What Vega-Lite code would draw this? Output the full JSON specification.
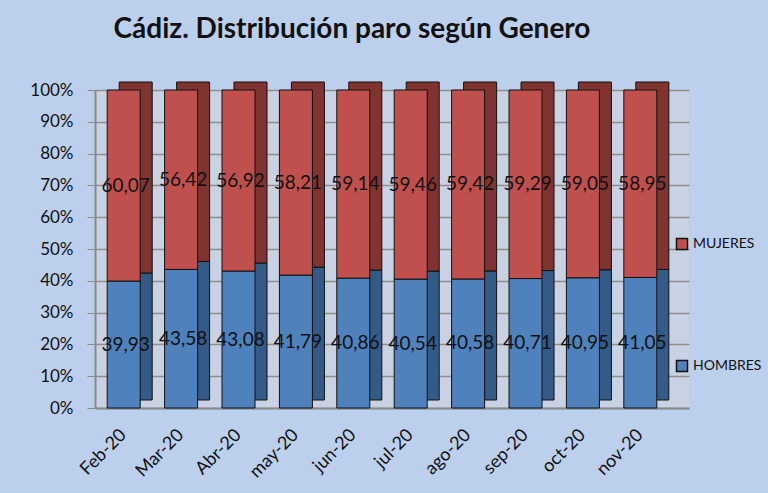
{
  "$schema": "https://vega.github.io/schema/vega-lite/v6.json",
  "width": 594,
  "height": 318,
  "autosize": {"type": "none"},
  "padding": {"left": 95, "top": 90, "right": 79, "bottom": 85},
  "background": "#bccfec",
  "config": {
    "font": "Lato",
    "view": {"fill": "#c9d2e2", "stroke": null},
    "locale": {"number": {"decimal": ",", "thousands": ".", "grouping": [3], "currency": ["", " €"]}}
  },
  "title": {
    "text": "Cádiz. Distribución paro según Genero",
    "fontSize": 28,
    "fontWeight": "bold",
    "font": "Lato",
    "color": "#111111",
    "offset": 37,
    "dx": -40
  },
  "data": {
    "values": [
      {"mes": "Feb-20", "genero": "HOMBRES", "valor": 39.93},
      {"mes": "Feb-20", "genero": "MUJERES", "valor": 60.07},
      {"mes": "Mar-20", "genero": "HOMBRES", "valor": 43.58},
      {"mes": "Mar-20", "genero": "MUJERES", "valor": 56.42},
      {"mes": "Abr-20", "genero": "HOMBRES", "valor": 43.08},
      {"mes": "Abr-20", "genero": "MUJERES", "valor": 56.92},
      {"mes": "may-20", "genero": "HOMBRES", "valor": 41.79},
      {"mes": "may-20", "genero": "MUJERES", "valor": 58.21},
      {"mes": "jun-20", "genero": "HOMBRES", "valor": 40.86},
      {"mes": "jun-20", "genero": "MUJERES", "valor": 59.14},
      {"mes": "jul-20", "genero": "HOMBRES", "valor": 40.54},
      {"mes": "jul-20", "genero": "MUJERES", "valor": 59.46},
      {"mes": "ago-20", "genero": "HOMBRES", "valor": 40.58},
      {"mes": "ago-20", "genero": "MUJERES", "valor": 59.42},
      {"mes": "sep-20", "genero": "HOMBRES", "valor": 40.71},
      {"mes": "sep-20", "genero": "MUJERES", "valor": 59.29},
      {"mes": "oct-20", "genero": "HOMBRES", "valor": 40.95},
      {"mes": "oct-20", "genero": "MUJERES", "valor": 59.05},
      {"mes": "nov-20", "genero": "HOMBRES", "valor": 41.05},
      {"mes": "nov-20", "genero": "MUJERES", "valor": 58.95}
    ]
  },
  "encoding": {
    "x": {
      "field": "mes",
      "type": "nominal",
      "sort": null,
      "scale": {"paddingInner": 0, "paddingOuter": 0.174, "align": 0},
      "axis": {
        "title": null,
        "labelAngle": -45,
        "labelAlign": "right",
        "labelBaseline": "middle",
        "labelFontSize": 18,
        "labelColor": "#111111",
        "labelPadding": 24,
        "ticks": false,
        "domainColor": "#8a8a8a",
        "domainWidth": 2,
        "grid": false
      }
    },
    "y": {
      "field": "valor",
      "type": "quantitative",
      "aggregate": "sum",
      "stack": "normalize",
      "scale": {"domain": [0, 1]},
      "axis": {
        "title": null,
        "format": ".0%",
        "values": [0, 0.1, 0.2, 0.3, 0.4, 0.5, 0.6, 0.7, 0.8, 0.9, 1],
        "labelFontSize": 17,
        "labelColor": "#111111",
        "labelPadding": 14,
        "tickSize": 8,
        "tickColor": "#8a8a8a",
        "domainColor": "#8a8a8a",
        "domainWidth": 2,
        "gridColor": "#8f8f8f",
        "gridWidth": 1.5
      }
    },
    "order": {"field": "genero", "sort": "ascending"}
  },
  "layer": [
    {
      "mark": {"type": "bar", "size": 33, "xOffset": 12, "yOffset": -8, "stroke": "#111111", "strokeWidth": 1},
      "encoding": {
        "color": {
          "condition": {"test": "datum.genero === 'HOMBRES'", "value": "#345a87"},
          "value": "#7f3431"
        }
      }
    },
    {
      "mark": {"type": "bar", "size": 33, "stroke": "#111111", "strokeWidth": 1},
      "encoding": {
        "color": {
          "field": "genero",
          "type": "nominal",
          "scale": {"domain": ["MUJERES", "HOMBRES"], "range": ["#c0504d", "#4f81bd"]},
          "legend": {
            "title": null,
            "orient": "none",
            "legendX": 580,
            "legendY": 147,
            "symbolType": "square",
            "symbolSize": 121,
            "symbolStrokeColor": "#111111",
            "symbolStrokeWidth": 1.5,
            "symbolOpacity": 1,
            "labelFontSize": 14,
            "labelColor": "#111111",
            "labelOffset": 4,
            "rowPadding": 104,
            "padding": 0
          }
        }
      }
    },
    {
      "mark": {"type": "text", "fontSize": 19, "color": "#111111", "dx": 2},
      "encoding": {
        "y": {
          "field": "valor",
          "type": "quantitative",
          "aggregate": "sum",
          "stack": "normalize",
          "bandPosition": 0.5
        },
        "text": {"field": "valor", "aggregate": "sum", "type": "quantitative", "format": ".2f"}
      }
    }
  ]
}
